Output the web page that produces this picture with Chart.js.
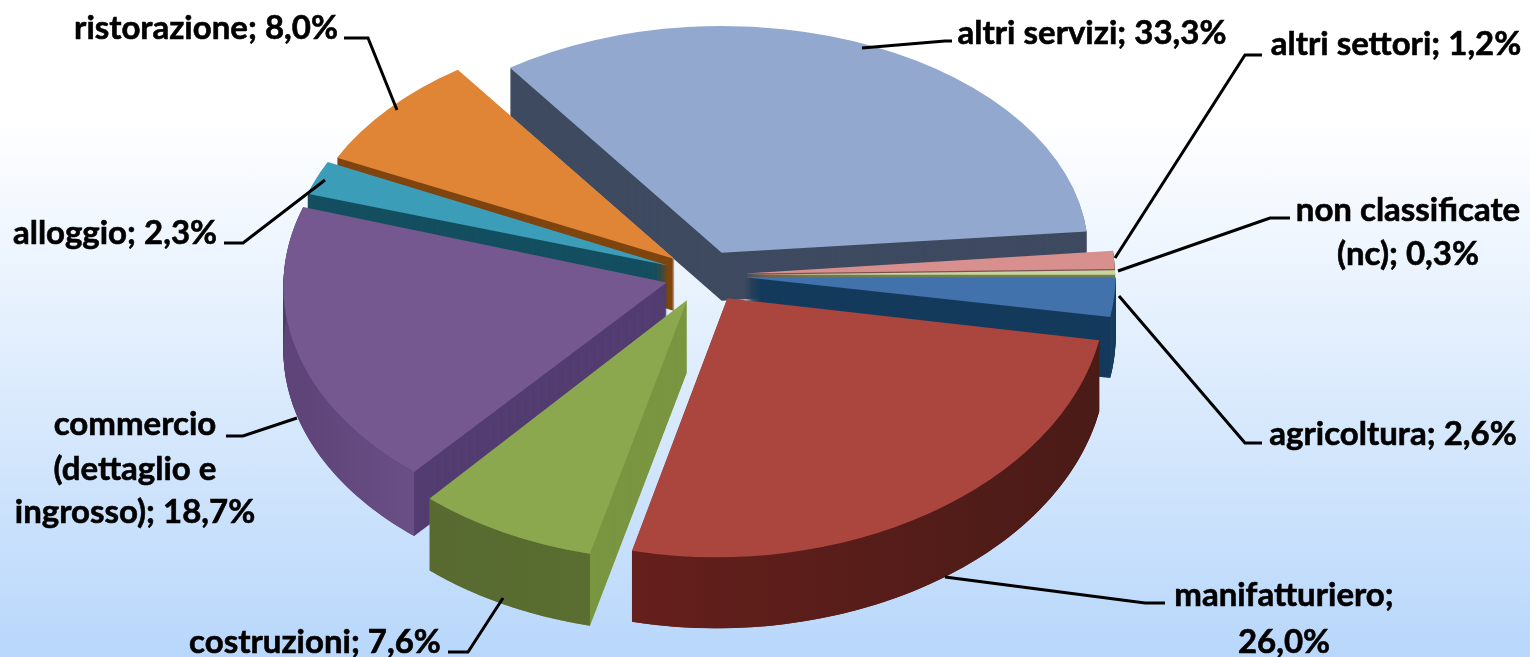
<!DOCTYPE html>
<html lang="it">
<head>
    <meta charset="UTF-8">
    <title>Settori</title>
    <script src="https://cdn.jsdelivr.net/npm/chart.js"></script>
    <style>
        html, body {
            margin: 0;
            height: 100%;
            overflow: hidden;
        }
        body {
            background: linear-gradient(#ffffff 0%, #ffffff 18%, #b8d7fb 100%);
        }
        canvas {
            display: block;
        }
    </style>
</head>
<body>
<canvas id="myChart" width="1530" height="657"></canvas>

<script>
    // data, in the order of the slices clockwise from 3 o'clock
    const categories = ['agricoltura', 'manifatturiero', 'costruzioni', 'commercio (dettaglio e ingrosso)', 'alloggio', 'ristorazione', 'altri servizi', 'altri settori', 'non classificate (nc)'];
    const shares = [2.6, 26.0, 7.6, 18.7, 2.3, 8.0, 33.3, 1.2, 0.3];

    // colours per slice
    const topColors = ['#4272ac', '#aa463e', '#8ba84e', '#75588f', '#3c9db8', '#e08536', '#92a8cf', '#d8908e', '#c9d5a0'];
    const sideColors = ['#143a5c', '#5a1f1b', '#7a9640', '#523c70', '#144f60', '#7f4510', '#3e4a60', '#7a5350', '#6f8050'];
    const wallLeft = ['#1a3f60', '#651f1c', '#586a30', '#5e4478', '#1a5566', '#8a4c14', '#46526a', '#80585a', '#708050'];
    const wallRight = ['#16385a', '#4a1b17', '#5a6e30', '#6a4f86', '#1a5566', '#8a4c14', '#3b475c', '#80585a', '#708050'];

    // back to front
    const drawOrder = [6, 7, 8, 5, 4, 0, 3, 2, 1];

    // label text and leader lines
    const labelBlocks = [
        { lines: ['ristorazione; 8,0%'], x: 206, y: [28], leader: [[344, 38], [368, 38], [397, 110]] },
        { lines: ['altri servizi; 33,3%'], x: 1092, y: [33], leader: [[952, 41], [945, 41], [862, 48]] },
        { lines: ['altri settori; 1,2%'], x: 1396, y: [44], leader: [[1262, 55], [1245, 55], [1115, 258]] },
        { lines: ['non classificate', '(nc); 0,3%'], x: 1408, y: [210, 254], leader: [[1290, 218], [1270, 218], [1118, 271]] },
        { lines: ['agricoltura; 2,6%'], x: 1393, y: [434], leader: [[1262, 443], [1245, 443], [1119, 296]] },
        { lines: ['manifatturiero;', '26,0%'], x: 1284, y: [595, 642], leader: [[1165, 603], [1145, 603], [945, 577]] },
        { lines: ['costruzioni; 7,6%'], x: 315, y: [642], leader: [[448, 652], [468, 652], [503, 598]] },
        { lines: ['commercio', '(dettaglio e', 'ingrosso); 18,7%'], x: 135, y: [424, 469, 512], leader: [[226, 436], [243, 436], [297, 418]] },
        { lines: ['alloggio; 2,3%'], x: 115, y: [233], leader: [[224, 243], [243, 243], [325, 180]] }
    ];

    const explode = 40;

    // fake perspective: near slices are taller, wider and lean to the left
    function squash(mid) { return 0.655 + 0.05 * Math.sin(mid); }
    function widen(mid) { return 1.01 + 0.02 * Math.sin(mid) - 0.015 * Math.cos(mid); }
    function lean(mid) { return 0.045 * Math.sqrt(Math.max(0, Math.sin(mid))); }
    function depth(mid) { return Math.round(60 + 13 * Math.sin(mid)); }

    // draw the library's arc with another fill
    function paintArc(arc, fill, ctx) {
        const copy = Object.create(arc, { options: { value: { ...arc.options, backgroundColor: fill, borderWidth: 0 } } });
        Chart.ArcElement.prototype.draw.call(copy, ctx);
    }

    function placeSlice(ctx, arc, mid, down) {
        const sy = squash(mid);
        ctx.translate(arc.x + Math.cos(mid) * explode, arc.y + Math.sin(mid) * explode * sy + down);
        ctx.transform(1, 0, -lean(mid), 1, 0, 0);
        ctx.scale(widen(mid), sy);
        ctx.translate(-arc.x, -arc.y);
    }

    const pie3d = {
        id: 'pie3d',
        beforeDatasetDraw(chart) {
            const ctx = chart.ctx;
            const arcs = chart.getDatasetMeta(0).data;
            drawOrder.forEach(function (i) {
                const arc = arcs[i];
                const mid = (arc.startAngle + arc.endAngle) / 2;
                const h = depth(mid);

                // extrusion, this leaves the flat side walls
                for (let d = h; d > 0; d--) {
                    ctx.save();
                    placeSlice(ctx, arc, mid, d);
                    paintArc(arc, sideColors[i], ctx);
                    ctx.restore();
                }

                // rounded outer wall with its shading
                const sy = squash(mid);
                const sx = widen(mid);
                const k = lean(mid);
                const ox = arc.x + Math.cos(mid) * explode;
                const oy = arc.y + Math.sin(mid) * explode * sy;
                const r = arc.outerRadius;
                const steps = 60;
                const px = function (t) { return ox + r * sx * Math.cos(t) - k * r * sy * Math.sin(t); };
                const py = function (t) { return oy + r * sy * Math.sin(t); };
                const grad = ctx.createLinearGradient(px(arc.startAngle), 0, px(arc.endAngle), 0);
                grad.addColorStop(0, wallRight[i]);
                grad.addColorStop(1, wallLeft[i]);
                ctx.beginPath();
                for (let s = 0; s <= steps; s++) {
                    const t = arc.startAngle + (arc.endAngle - arc.startAngle) * s / steps;
                    ctx.lineTo(px(t), py(t));
                }
                for (let s = steps; s >= 0; s--) {
                    const t = arc.startAngle + (arc.endAngle - arc.startAngle) * s / steps;
                    ctx.lineTo(px(t), py(t) + h);
                }
                ctx.closePath();
                ctx.fillStyle = grad;
                if (Math.sin(mid) > -0.1) ctx.fill();

                // top face
                ctx.save();
                placeSlice(ctx, arc, mid, 0);
                paintArc(arc, topColors[i], ctx);
                ctx.restore();
            });
            return false; // skip the default flat drawing
        },
        afterDraw(chart) {
            const ctx = chart.ctx;
            ctx.save();
            ctx.strokeStyle = '#000000';
            ctx.fillStyle = '#000000';
            ctx.font = 'bold 33px Lato';
            ctx.textAlign = 'center';
            ctx.textBaseline = 'middle';
            labelBlocks.forEach(function (block) {
                ctx.lineWidth = 3;
                ctx.beginPath();
                block.leader.forEach(function (p, n) {
                    if (n === 0) ctx.moveTo(p[0], p[1]);
                    else ctx.lineTo(p[0], p[1]);
                });
                ctx.stroke();
                ctx.lineWidth = 0.6; // the text is heavier in the original
                block.lines.forEach(function (line, n) {
                    ctx.fillText(line, block.x, block.y[n]);
                    ctx.strokeText(line, block.x, block.y[n]);
                });
            });
            ctx.restore();
        }
    };

    new Chart(document.getElementById('myChart').getContext('2d'), {
        type: 'pie',
        data: {
            labels: categories,
            datasets: [{
                data: shares,
                backgroundColor: topColors,
                borderWidth: 0
            }]
        },
        options: {
            responsive: false,
            animation: false,
            rotation: 90,
            radius: 372,
            layout: { padding: { right: 120, bottom: 107 } },
            plugins: {
                legend: { display: false },
                tooltip: { enabled: false }
            }
        },
        plugins: [pie3d]
    });
</script>
</body>
</html>
